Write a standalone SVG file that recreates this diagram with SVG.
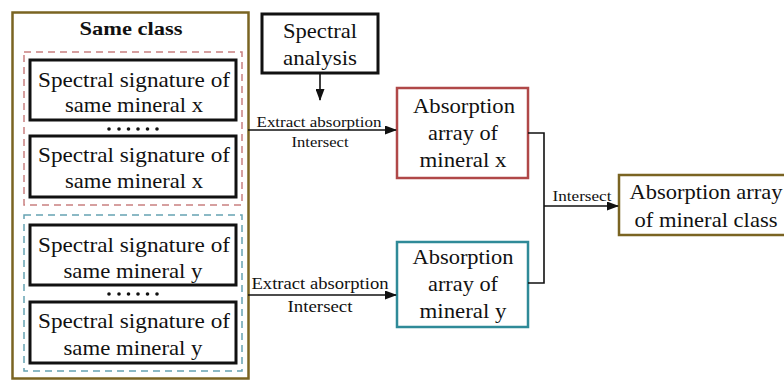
<svg xmlns="http://www.w3.org/2000/svg" width="784" height="381" viewBox="0 0 784 381">
<defs>
<marker id="ah" markerWidth="12" markerHeight="9" refX="11" refY="4.5" orient="auto" markerUnits="userSpaceOnUse">
<path d="M0,0 L12,4.5 L0,9 Z" fill="#111"/>
</marker>
<style>
text{font-family:"Liberation Serif","Times New Roman",serif;fill:#111;text-anchor:middle}
.big{font-size:22px}
.lbl{font-size:15px}
.node{fill:#fff;stroke:#111;stroke-width:3}
.conn{fill:none;stroke:#111;stroke-width:1.6}
.dot{fill:#111}
</style>
</defs>
<rect width="784" height="381" fill="#fff"/>
<g id="same-class">
<rect x="12.5" y="12.5" width="236" height="366" fill="#fff" stroke="#7a6422" stroke-width="2.5"/>
<text x="131" y="35" style="font-size:19px;font-weight:bold" textLength="103" lengthAdjust="spacingAndGlyphs">Same class</text>
</g>
<g id="group-x">
<rect x="24" y="52" width="218" height="153" fill="none" stroke="#c98080" stroke-width="1.5" stroke-dasharray="7,5"/>
</g>
<g id="group-y">
<rect x="24" y="215" width="218" height="156" fill="none" stroke="#66a3b3" stroke-width="1.5" stroke-dasharray="7,5"/>
</g>
<g id="sig-x1">
<rect class="node" x="30" y="60" width="206" height="60"/>
<text class="big" x="134" y="87" textLength="192" lengthAdjust="spacingAndGlyphs">Spectral signature of</text>
<text class="big" x="134" y="112" textLength="138" lengthAdjust="spacingAndGlyphs">same mineral x</text>
</g>
<g id="dots-x">
<circle class="dot" cx="109" cy="129" r="1.8"/><circle class="dot" cx="119" cy="129" r="1.8"/><circle class="dot" cx="128.5" cy="129" r="1.8"/><circle class="dot" cx="138" cy="129" r="1.8"/><circle class="dot" cx="147.5" cy="129" r="1.8"/><circle class="dot" cx="157" cy="129" r="1.8"/>
</g>
<g id="sig-x2">
<rect class="node" x="30" y="136" width="206" height="61"/>
<text class="big" x="134" y="162" textLength="192" lengthAdjust="spacingAndGlyphs">Spectral signature of</text>
<text class="big" x="134" y="188" textLength="138" lengthAdjust="spacingAndGlyphs">same mineral x</text>
</g>
<g id="sig-y1">
<rect class="node" x="30" y="225" width="206" height="60"/>
<text class="big" x="134" y="252" textLength="192" lengthAdjust="spacingAndGlyphs">Spectral signature of</text>
<text class="big" x="133" y="278" textLength="139" lengthAdjust="spacingAndGlyphs">same mineral y</text>
</g>
<g id="dots-y">
<circle class="dot" cx="109" cy="294" r="1.8"/><circle class="dot" cx="119" cy="294" r="1.8"/><circle class="dot" cx="128.5" cy="294" r="1.8"/><circle class="dot" cx="138" cy="294" r="1.8"/><circle class="dot" cx="147.5" cy="294" r="1.8"/><circle class="dot" cx="157" cy="294" r="1.8"/>
</g>
<g id="sig-y2">
<rect class="node" x="30" y="302" width="206" height="61"/>
<text class="big" x="134" y="328" textLength="192" lengthAdjust="spacingAndGlyphs">Spectral signature of</text>
<text class="big" x="133" y="355" textLength="139" lengthAdjust="spacingAndGlyphs">same mineral y</text>
</g>
<g id="spectral-analysis">
<rect class="node" x="262" y="14" width="116" height="59"/>
<text class="big" x="320" y="38" textLength="74" lengthAdjust="spacingAndGlyphs">Spectral</text>
<text class="big" x="320" y="65" textLength="74" lengthAdjust="spacingAndGlyphs">analysis</text>
</g>
<g id="abs-x">
<rect x="397" y="88" width="131" height="90" fill="#fff" stroke="#b04848" stroke-width="2.5"/>
<text class="big" x="464" y="113" textLength="102" lengthAdjust="spacingAndGlyphs">Absorption</text>
<text class="big" x="463" y="140" textLength="70" lengthAdjust="spacingAndGlyphs">array of</text>
<text class="big" x="463" y="167" textLength="87" lengthAdjust="spacingAndGlyphs">mineral x</text>
</g>
<g id="abs-y">
<rect x="397" y="242" width="131" height="85" fill="#fff" stroke="#2f8a98" stroke-width="2.5"/>
<text class="big" x="463" y="264" textLength="101" lengthAdjust="spacingAndGlyphs">Absorption</text>
<text class="big" x="463" y="291" textLength="70" lengthAdjust="spacingAndGlyphs">array of</text>
<text class="big" x="463" y="318" textLength="87" lengthAdjust="spacingAndGlyphs">mineral y</text>
</g>
<g id="abs-class">
<rect x="619" y="175" width="170" height="60" fill="#fff" stroke="#7a6422" stroke-width="2.5"/>
<text class="big" x="706" y="199" textLength="153" lengthAdjust="spacingAndGlyphs">Absorption array</text>
<text class="big" x="706" y="227" textLength="143" lengthAdjust="spacingAndGlyphs">of mineral class</text>
</g>
<g id="connectors">
<path class="conn" d="M320,73 V100" marker-end="url(#ah)"/>
<path class="conn" d="M248,130 H396" marker-end="url(#ah)"/>
<path class="conn" d="M248,295 H396" marker-end="url(#ah)"/>
<path class="conn" d="M528,133 H544 V283 H528"/>
<path class="conn" d="M544,206 H618" marker-end="url(#ah)"/>
<text class="lbl" x="319" y="127" textLength="125" lengthAdjust="spacingAndGlyphs">Extract absorption</text>
<text class="lbl" x="320" y="147" textLength="57" lengthAdjust="spacingAndGlyphs">Intersect</text>
<text class="lbl" x="320" y="289" style="font-size:16px" textLength="137" lengthAdjust="spacingAndGlyphs">Extract absorption</text>
<text class="lbl" x="320" y="312" style="font-size:16px" textLength="65" lengthAdjust="spacingAndGlyphs">Intersect</text>
<text class="lbl" x="582" y="201" style="font-size:14px" textLength="59" lengthAdjust="spacingAndGlyphs">Intersect</text>
</g>
</svg>
